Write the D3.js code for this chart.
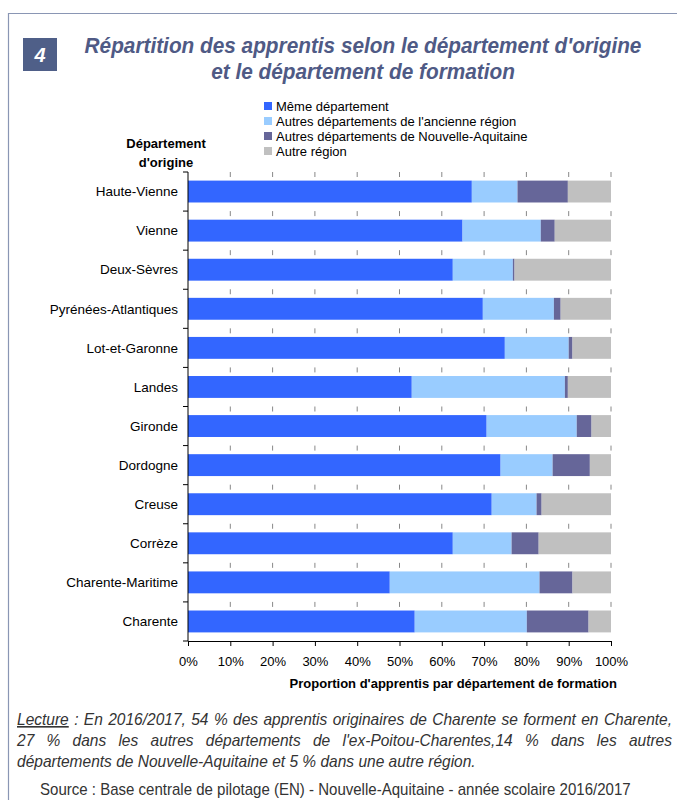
<!DOCTYPE html>
<html>
<head>
<meta charset="utf-8">
<script src="https://cdn.jsdelivr.net/npm/d3@7"></script>
<style>
  body { margin: 0; background: #fff; }
  svg text { font-family: "Liberation Sans", Arial, sans-serif; }
</style>
</head>
<body>
<div id="chart"></div>
<script>
// departements, top to bottom
var departements = ["Haute-Vienne", "Vienne", "Deux-Sèvres", "Pyrénées-Atlantiques", "Lot-et-Garonne",
                    "Landes", "Gironde", "Dordogne", "Creuse", "Corrèze", "Charente-Maritime", "Charente"];
var series = ["Même département", "Autres départements de l'ancienne région",
              "Autres départements de Nouvelle-Aquitaine", "Autre région"];
var memeDep      = [67.1, 64.9, 62.6, 69.7, 74.9, 52.9, 70.6, 73.9, 71.8, 62.6, 47.7, 53.6];
var ancienneReg  = [10.8, 18.5, 14.2, 16.8, 15.1, 36.2, 21.3, 12.3, 10.6, 13.9, 35.4, 26.5];
var nouvelleAq   = [11.9,  3.3,  0.4,  1.6,  0.9,  0.7,  3.5,  8.8,  1.2,  6.4,  7.8, 14.6];
var autreRegion  = [10.2, 13.3, 22.8, 11.9,  9.1, 10.2,  4.6,  5.0, 16.4, 17.1,  9.1,  5.3];
var xTicks = [0, 10, 20, 30, 40, 50, 60, 70, 80, 90, 100];
var colors = ["#3366FF", "#99CCFF", "#666699", "#C0C0C0"];

var W = 677, H = 800;
var plot = { left: 188, right: 611, top: 172, bottom: 641 };

var svg = d3.select("#chart").append("svg")
            .attr("width", W)
            .attr("height", H);

// frame
svg.append("path")
   .attr("d", "M8.5," + H + " L8.5,13.5 L" + W + ",13.5")
   .attr("fill", "none")
   .attr("stroke", "#8a96b4")
   .attr("stroke-width", 1.2);

// title
svg.append("rect").attr("x", 23).attr("y", 38).attr("width", 34).attr("height", 33).attr("fill", "#4f5f88");
svg.append("text").attr("x", 40).attr("y", 62).attr("text-anchor", "middle")
   .attr("fill", "#fff").style("font-size", "20px").style("font-weight", "bold").style("font-style", "italic")
   .text("4");
var titleLines = ["Répartition des apprentis selon le département d'origine", "et le département de formation"];
svg.append("g").attr("transform", "translate(363,0) scale(0.945,1)")
   .selectAll("text").data(titleLines).enter().append("text")
   .attr("x", 0)
   .attr("y", function(d, i) { return 53 + i * 26; })
   .attr("text-anchor", "middle")
   .attr("fill", "#4f5a85")
   .style("font-size", "22px").style("font-weight", "bold").style("font-style", "italic")
   .text(function(d) { return d; });

// legend
var legend = svg.append("g").selectAll("g").data(series).enter().append("g")
                .attr("transform", function(d, i) { return "translate(264," + (102 + i * 15) + ")"; });
legend.append("rect").attr("width", 8).attr("height", 8).attr("fill", function(d, i) { return colors[i]; });
legend.append("text").attr("x", 12).attr("y", 8.5).style("font-size", "13px").attr("fill", "#000")
      .text(function(d) { return d; });

// y axis title
svg.append("g").selectAll("text").data(["Département", "d'origine"]).enter().append("text")
   .attr("x", 166).attr("y", function(d, i) { return 148 + i * 19; })
   .attr("text-anchor", "middle")
   .style("font-size", "13px").style("font-weight", "bold")
   .text(function(d) { return d; });

var x = d3.scaleLinear().domain([0, 100]).range([plot.left, plot.right]);
var y = d3.scaleBand().domain(departements).range([plot.top, plot.bottom]).paddingInner(0.44).paddingOuter(0.22);
var step = y.step();

// dashed gridlines (only visible between bars)
svg.append("g").selectAll("line").data(xTicks.slice(1)).enter().append("line")
   .attr("x1", function(d) { return x(d); }).attr("x2", function(d) { return x(d); })
   .attr("y1", plot.top).attr("y2", plot.bottom)
   .attr("stroke", "#888")
   .attr("stroke-width", 1)
   .attr("stroke-dasharray", "5," + (step - 5));

// stacked bars
var rows = departements.map(function(d, i) {
  return { dep: d, values: [memeDep[i], ancienneReg[i], nouvelleAq[i], autreRegion[i]] };
});
var stack = d3.stack().keys([0, 1, 2, 3]).value(function(d, k) { return d.values[k]; });
var layers = stack(rows);

svg.append("g").selectAll("g").data(layers).enter().append("g")
   .attr("fill", function(d, i) { return colors[i]; })
   .selectAll("rect").data(function(d) { return d; }).enter().append("rect")
   .attr("x", function(d) { return x(d[0]); })
   .attr("width", function(d) { return x(d[1]) - x(d[0]); })
   .attr("y", function(d) { return y(d.data.dep); })
   .attr("height", y.bandwidth());

// left axis
var yAxis = svg.append("g").attr("transform", "translate(" + plot.left + ",0)");
yAxis.append("line").attr("x1", 0).attr("x2", 0).attr("y1", plot.top).attr("y2", plot.bottom).attr("stroke", "#000");
yAxis.selectAll("line.tick").data(d3.range(departements.length + 1)).enter().append("line")
     .attr("class", "tick")
     .attr("x1", -5).attr("x2", 0)
     .attr("y1", function(i) { return plot.top + i * step; })
     .attr("y2", function(i) { return plot.top + i * step; })
     .attr("stroke", "#000");
yAxis.selectAll("text").data(departements).enter().append("text")
     .attr("x", -10)
     .attr("y", function(d) { return y(d) + y.bandwidth() / 2; })
     .attr("dy", "0.35em")
     .attr("text-anchor", "end")
     .style("font-size", "13.5px")
     .text(function(d) { return d; });

// bottom axis
var xAxis = d3.axisBottom(x).tickValues(xTicks).tickSize(5).tickPadding(11)
              .tickFormat(function(d) { return d + "%"; });
var gx = svg.append("g").attr("transform", "translate(0," + plot.bottom + ")").call(xAxis);
gx.selectAll("text").style("font-size", "13px").attr("fill", "#000");
gx.selectAll("line, path").attr("stroke", "#000");

svg.append("text").attr("x", 617).attr("y", 688).attr("text-anchor", "end")
   .style("font-size", "13px").style("font-weight", "bold")
   .text("Proportion d'apprentis par département de formation");

// note: slightly condensed text, justified with word spacing
var sx = 0.97;
var noteLines = [
  "Lecture : En 2016/2017, 54 % des apprentis originaires de Charente se forment en Charente,",
  "27 % dans les autres départements de l'ex-Poitou-Charentes,14 % dans les autres",
  "départements de Nouvelle-Aquitaine et 5 % dans une autre région."
];
var noteY = [725, 746, 767];
noteLines.forEach(function(line, i) {
  var g = svg.append("g").attr("transform", "translate(17," + noteY[i] + ") scale(" + sx + ",1)");
  var t = g.append("text").attr("x", 0).attr("y", 0).attr("fill", "#333")
           .style("font-size", "16px").style("font-style", "italic");
  if (i == 0) {
    t.append("tspan").attr("text-decoration", "underline").text("Lecture");
    t.append("tspan").text(line.slice(7));
  } else {
    t.text(line);
  }
  if (i < 2) {
    var natural = t.node().getComputedTextLength();
    var spaces = line.split(" ").length - 1;
    t.style("word-spacing", ((655 / sx - natural) / spaces) + "px");
  }
});

svg.append("g").attr("transform", "translate(40,795) scale(0.94,1)")
   .append("text").attr("fill", "#333")
   .style("font-size", "16px")
   .text("Source : Base centrale de pilotage (EN) - Nouvelle-Aquitaine - année scolaire 2016/2017");
</script>
</body>
</html>
